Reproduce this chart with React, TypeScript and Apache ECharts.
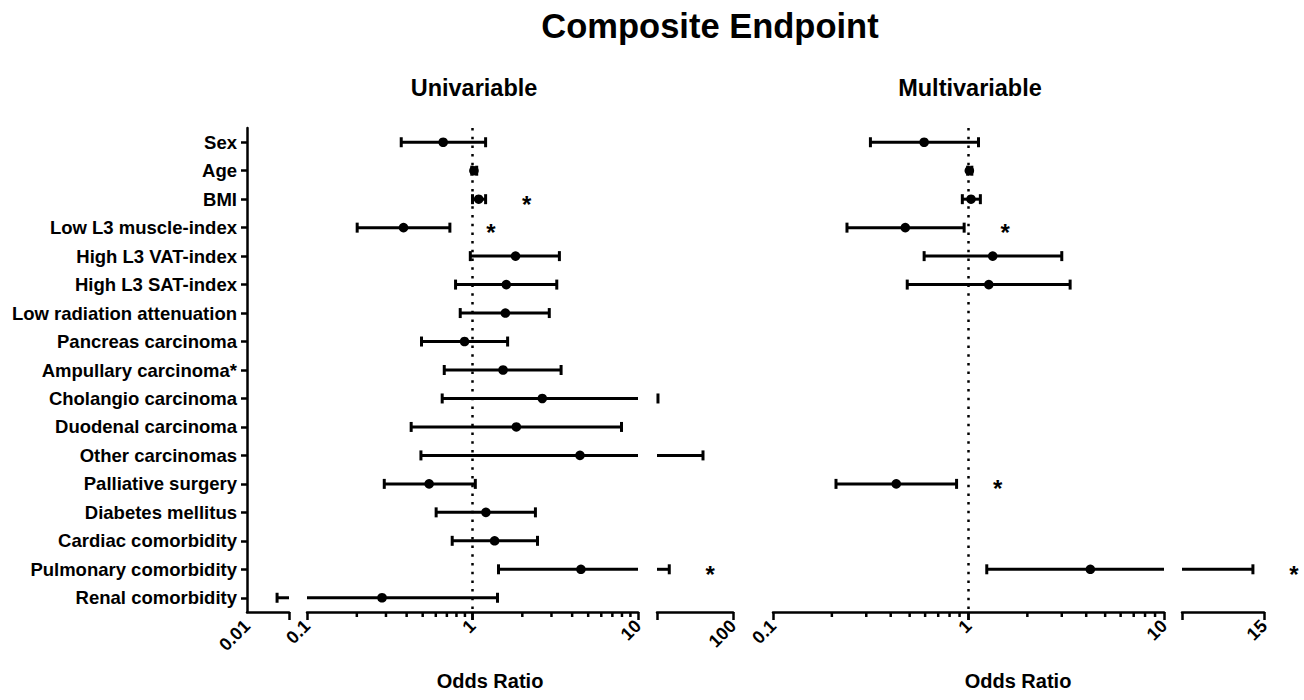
import React, { useEffect, useRef } from "react";
import * as echarts from "echarts";

const categories = [
  "Sex",
  "Age",
  "BMI",
  "Low L3 muscle-index",
  "High L3 VAT-index",
  "High L3 SAT-index",
  "Low radiation attenuation",
  "Pancreas carcinoma",
  "Ampullary carcinoma*",
  "Cholangio carcinoma",
  "Duodenal carcinoma",
  "Other carcinomas",
  "Palliative surgery",
  "Diabetes mellitus",
  "Cardiac comorbidity",
  "Pulmonary comorbidity",
  "Renal comorbidity",
];

// Univariable odds ratios with 95% CI
const uniOR = [0.665, 1.02, 1.09, 0.383, 1.82, 1.6, 1.58, 0.895, 1.53, 2.64, 1.84, 4.46, 0.547, 1.205, 1.36, 4.52, 0.284];
const uniLow = [0.371, 0.99, 1.0, 0.201, 0.97, 0.79, 0.843, 0.492, 0.675, 0.656, 0.426, 0.488, 0.293, 0.603, 0.754, 1.436, 0.052];
const uniHigh = [1.2, 1.06, 1.2, 0.73, 3.35, 3.23, 2.91, 1.63, 3.43, 10.3, 7.95, 40.3, 1.04, 2.4, 2.47, 14.5, 1.416];
const uniSig = [0, 0, 1, 1, 0, 0, 0, 0, 0, 0, 0, 0, 0, 0, 0, 1, 0];

// Multivariable odds ratios with 95% CI
const multiOR = [0.593, 1.01, 1.03, 0.475, 1.33, 1.27, null, null, null, null, null, null, 0.427, null, null, 4.2, null];
const multiLow = [0.315, 0.99, 0.93, 0.239, 0.593, 0.486, null, null, null, null, null, null, 0.21, null, null, 1.24, null];
const multiHigh = [1.125, 1.04, 1.15, 0.95, 3.0, 3.31, null, null, null, null, null, null, 0.869, null, null, 14.2, null];
const multiSig = [0, 0, 0, 1, 0, 0, 0, 0, 0, 0, 0, 0, 1, 0, 0, 1, 0];

// Broken-axis segments (axis ranges) and tick values
const uniSegments = [
  [0.01, 0.1],
  [0.1, 10],
  [10, 100],
];
const multiSegments = [
  [0.1, 10],
  [10, 15],
];
const uniMajorTicks = [[0.1], [0.1, 1, 10], [10, 100]];
const uniTickLabels = [[0.01], [0.1, 1, 10], [100]];
const multiMajorTicks = [[0.1, 1, 10], [10, 15]];
const multiTickLabels = [[0.1, 1, 10], [15]];
const minorTickValues = [0.2, 0.3, 0.4, 0.5, 0.6, 0.7, 0.8, 0.9, 2, 3, 4, 5, 6, 7, 8, 9];

const FONT = "'Liberation Sans', Arial, Helvetica, sans-serif";
const GRID_TOP = 128;
const GRID_HEIGHT = 484;

// layout of each segment grid (pixels)
const uniBoxes = [
  { left: 247, width: 42 },
  { left: 307, width: 331 },
  { left: 657, width: 76 },
];
const multiBoxes = [
  { left: 773, width: 391 },
  { left: 1182, width: 82 },
];

function buildRows(or: (number | null)[], lo: (number | null)[], hi: (number | null)[], sig: number[]) {
  const rows: number[][] = [];
  for (let i = 0; i < or.length; i++) {
    if (or[i] == null) continue;
    rows.push([i, lo[i] as number, or[i] as number, hi[i] as number, sig[i]]);
  }
  return rows;
}

function makeRender(segMin: number, segMax: number) {
  return (params: any, api: any) => {
    const row = api.value(0);
    const l = api.value(1);
    const m = api.value(2);
    const h = api.value(3);
    const sig = api.value(4);
    if (h < segMin || l > segMax) return null;
    const a = Math.max(l, segMin);
    const b = Math.min(h, segMax);
    const pa = api.coord([a, row]);
    const pb = api.coord([b, row]);
    const y = pa[1];
    const st = { stroke: "#000", lineWidth: 3 };
    const children: any[] = [
      { type: "line", shape: { x1: pa[0], y1: y, x2: pb[0], y2: y }, style: st },
    ];
    if (l >= segMin) {
      children.push({ type: "line", shape: { x1: pa[0], y1: y - 5, x2: pa[0], y2: y + 5 }, style: st });
    }
    if (h <= segMax) {
      children.push({ type: "line", shape: { x1: pb[0], y1: y - 5, x2: pb[0], y2: y + 5 }, style: st });
      if (sig) {
        children.push({
          type: "text",
          x: pb[0] + 41,
          y: y + 5,
          style: {
            text: "*",
            fill: "#000",
            font: `bold 24px ${FONT}`,
            align: "center",
            verticalAlign: "middle",
          },
        });
      }
    }
    if (m >= segMin && m <= segMax) {
      const pm = api.coord([m, row]);
      children.push({ type: "circle", shape: { cx: pm[0], cy: y, r: 4.8 }, style: { fill: "#000" } });
    }
    return { type: "group", children };
  };
}

export default function App() {
  const ref = useRef<HTMLDivElement>(null);

  useEffect(() => {
    if (!ref.current) return;
    const chart = echarts.init(ref.current, null, { renderer: "svg" });

    const uniRows = buildRows(uniOR, uniLow, uniHigh, uniSig);
    const multiRows = buildRows(multiOR, multiLow, multiHigh, multiSig);

    const panels = [
      ...uniSegments.map((seg, i) => ({
        seg,
        box: uniBoxes[i],
        major: uniMajorTicks[i],
        labels: uniTickLabels[i],
        minor: i === 1 ? minorTickValues : [],
        rows: uniRows,
        showY: i === 0,
        refLine: i === 1,
      })),
      ...multiSegments.map((seg, i) => ({
        seg,
        box: multiBoxes[i],
        major: multiMajorTicks[i],
        labels: multiTickLabels[i],
        minor: i === 0 ? minorTickValues : [],
        rows: multiRows,
        showY: false,
        refLine: i === 0,
      })),
    ];

    const grid: any[] = [];
    const xAxis: any[] = [];
    const yAxis: any[] = [];
    const series: any[] = [];

    panels.forEach((p, gi) => {
      grid.push({ left: p.box.left, width: p.box.width, top: GRID_TOP, height: GRID_HEIGHT, containLabel: false });
      xAxis.push({
        type: "log",
        logBase: 10,
        gridIndex: gi,
        min: p.seg[0],
        max: p.seg[1],
        position: "bottom",
        axisLine: { show: true, lineStyle: { color: "#000", width: 2.5 } },
        axisTick: { show: true, length: 8, lineStyle: { color: "#000", width: 2.5 }, customValues: p.major },
        axisLabel: {
          show: true,
          customValues: p.labels,
          rotate: 45,
          margin: 11,
          fontSize: 18,
          fontWeight: "bold",
          fontFamily: FONT,
          color: "#000",
          formatter: (v: number) => String(+Number(v).toPrecision(4)),
        },
        splitLine: { show: false },
        minorTick: { show: false },
      });
      yAxis.push({
        type: "category",
        gridIndex: gi,
        data: categories,
        inverse: true,
        show: p.showY,
        axisLine: { show: true, lineStyle: { color: "#000", width: 2.5 } },
        axisTick: { show: true, alignWithLabel: true, length: 6, lineStyle: { color: "#000", width: 2.5 } },
        axisLabel: { fontSize: 18.5, fontWeight: "bold", fontFamily: FONT, color: "#000", margin: 10 },
        splitLine: { show: false },
      });
      series.push({
        type: "custom",
        xAxisIndex: gi,
        yAxisIndex: gi,
        data: p.rows,
        encode: { x: [1, 2, 3], y: 0 },
        renderItem: makeRender(p.seg[0], p.seg[1]),
        clip: false,
        silent: true,
      });
      if (p.refLine) {
        series.push({
          type: "line",
          xAxisIndex: gi,
          yAxisIndex: gi,
          data: [],
          silent: true,
          markLine: {
            silent: true,
            symbol: ["none", "none"],
            label: { show: false },
            lineStyle: { color: "#000", width: 2.5, type: [2.5, 6.2] },
            data: [{ xAxis: 1 }],
          },
        });
      }
    });

    const texts: any[] = [
      { type: "text", x: 710, y: 26, style: { text: "Composite Endpoint", font: `bold 34.5px ${FONT}`, fill: "#000", align: "center", verticalAlign: "middle" } },
      { type: "text", x: 474, y: 88, style: { text: "Univariable", font: `bold 23.5px ${FONT}`, fill: "#000", align: "center", verticalAlign: "middle" } },
      { type: "text", x: 970, y: 88, style: { text: "Multivariable", font: `bold 23.5px ${FONT}`, fill: "#000", align: "center", verticalAlign: "middle" } },
      { type: "text", x: 490, y: 681, style: { text: "Odds Ratio", font: `bold 20px ${FONT}`, fill: "#000", align: "center", verticalAlign: "middle" } },
      { type: "text", x: 1018, y: 681, style: { text: "Odds Ratio", font: `bold 20px ${FONT}`, fill: "#000", align: "center", verticalAlign: "middle" } },
    ];

    chart.setOption({
      animation: false,
      backgroundColor: "#fff",
      textStyle: { fontFamily: FONT },
      grid,
      xAxis,
      yAxis,
      series,
      graphic: texts,
    });

    // interior tick marks, placed through each axis' own log scale
    const yb = GRID_TOP + GRID_HEIGHT;
    const tickMarks: any[] = [];
    panels.forEach((p, gi) => {
      const interiorMajor = p.major.filter((v) => v > p.seg[0] && v < p.seg[1]);
      const all = [
        ...interiorMajor.map((v) => ({ v, len: 8 })),
        ...p.minor.map((v) => ({ v, len: 5 })),
      ];
      all.forEach(({ v, len }) => {
        let x: any = chart.convertToPixel({ xAxisIndex: gi } as any, v);
        if (Array.isArray(x)) x = x[0];
        x = Number(x);
        if (isFinite(x)) {
          tickMarks.push({
            type: "line",
            silent: true,
            z: 100,
            shape: { x1: x, y1: yb, x2: x, y2: yb + len },
            style: { stroke: "#000", lineWidth: 2.5 },
          });
        }
      });
    });
    chart.setOption({ graphic: [...texts, ...tickMarks] });

    return () => chart.dispose();
  }, []);

  return <div ref={ref} style={{ position: "absolute", left: 0, top: 0, width: 1304, height: 700 }} />;
}
